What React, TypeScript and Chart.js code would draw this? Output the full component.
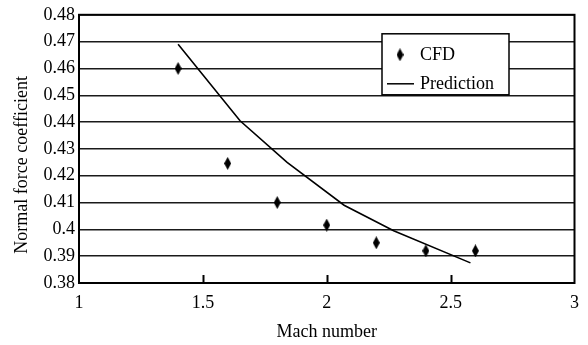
import React, { useEffect, useRef } from 'react';
import { Chart, registerables } from 'chart.js';

Chart.register(...registerables);

// ---- data ----
const machCFD = [1.4, 1.6, 1.8, 2.0, 2.2, 2.4, 2.6];
const cnCFD = [0.46, 0.4246, 0.41, 0.4016, 0.395, 0.392, 0.392];
const machPred = [1.4, 1.65, 1.84, 2.07, 2.27, 2.58];
const cnPred = [0.469, 0.4405, 0.425, 0.409, 0.3995, 0.3875];
const xTicks = [1, 1.5, 2, 2.5, 3];
const yTicks = [0.38, 0.39, 0.4, 0.41, 0.42, 0.43, 0.44, 0.45, 0.46, 0.47, 0.48];
const xTitle = 'Mach number';
const yTitle = 'Normal force coefficient';
const cfdLabel = 'CFD';
const predLabel = 'Prediction';

const FONT = '"Liberation Serif", "Times New Roman", serif';

function makeDiamond(w: number, h: number): HTMLCanvasElement {
  const c = document.createElement('canvas');
  c.width = w;
  c.height = h;
  const g = c.getContext('2d')!;
  g.fillStyle = '#000';
  g.beginPath();
  g.moveTo(w / 2, 0);
  g.lineTo(w, h / 2);
  g.lineTo(w / 2, h);
  g.lineTo(0, h / 2);
  g.closePath();
  g.fill();
  return c;
}

export default function App() {
  const ref = useRef<HTMLCanvasElement | null>(null);

  useEffect(() => {
    if (!ref.current) return;
    const diamond = makeDiamond(7, 13);

    const decor = {
      id: 'decor',
      afterDatasetsDraw(chart: any) {
        const { ctx, chartArea: a, scales } = chart;
        const xs = scales.x;
        ctx.save();
        // inward x ticks
        ctx.strokeStyle = '#000';
        ctx.lineWidth = 2;
        xTicks.slice(1, -1).forEach((v) => {
          const px = Math.round(xs.getPixelForValue(v)) + 0.5;
          ctx.beginPath();
          ctx.moveTo(px, a.bottom);
          ctx.lineTo(px, a.bottom - 8);
          ctx.stroke();
        });
        // frame
        ctx.strokeRect(a.left, a.top, a.right - a.left, a.bottom - a.top);

        // legend box
        const bx = a.left + 303;
        const by = a.top + 19;
        const bw = 127;
        const bh = 61;
        ctx.fillStyle = '#fff';
        ctx.fillRect(bx, by, bw, bh);
        ctx.lineWidth = 1.5;
        ctx.strokeStyle = '#000';
        ctx.strokeRect(bx, by, bw, bh);
        const ds = chart.data.datasets;
        ctx.drawImage(diamond, bx + 18 - 3.5, by + 21 - 6.5);
        ctx.beginPath();
        ctx.lineWidth = 1.5;
        ctx.moveTo(bx + 5, by + 50);
        ctx.lineTo(bx + 32, by + 50);
        ctx.stroke();
        ctx.fillStyle = '#000';
        ctx.font = '18px ' + FONT;
        ctx.textAlign = 'left';
        ctx.textBaseline = 'middle';
        ctx.fillText(ds[0].label, bx + 38, by + 21);
        ctx.fillText(ds[1].label, bx + 38, by + 50);

        // y title
        ctx.save();
        ctx.translate(27, (a.top + a.bottom) / 2 + 16);
        ctx.rotate(-Math.PI / 2);
        ctx.textAlign = 'center';
        ctx.textBaseline = 'alphabetic';
        ctx.fillText(yTitle, 0, 0);
        ctx.restore();

        ctx.restore();
      },
    };

    const chart = new Chart(ref.current, {
      type: 'scatter',
      data: {
        datasets: [
          {
            label: cfdLabel,
            data: machCFD.map((x, i) => ({ x, y: cnCFD[i] })),
            pointStyle: diamond as any,
            pointRadius: 6,
            showLine: false,
            backgroundColor: '#000',
            borderColor: '#000',
          },
          {
            label: predLabel,
            data: machPred.map((x, i) => ({ x, y: cnPred[i] })),
            showLine: true,
            pointRadius: 0,
            borderColor: '#000',
            borderWidth: 1.6,
            tension: 0,
          },
        ],
      },
      plugins: [decor],
      options: {
        responsive: false,
        animation: false,
        layout: { padding: { top: 13, right: 10, left: 0, bottom: 0 } },
        plugins: {
          legend: { display: false },
          tooltip: { enabled: false },
        },
        scales: {
          x: {
            type: 'linear',
            min: 1,
            max: 3,
            afterBuildTicks: (s: any) => {
              s.ticks = xTicks.map((v) => ({ value: v }));
            },
            afterFit: (s: any) => {
              s.height = 62;
            },
            grid: { display: false, drawTicks: false },
            border: { display: true, color: '#000', width: 2 },
            ticks: {
              color: '#000',
              padding: 9,
              font: { family: FONT, size: 18 },
              callback: (v: any) => String(v),
            },
            title: {
              display: true,
              text: xTitle,
              color: '#000',
              font: { family: FONT, size: 18 },
              padding: { top: 0, bottom: 2 },
            },
          },
          y: {
            type: 'linear',
            min: 0.38,
            max: 0.48,
            afterBuildTicks: (s: any) => {
              s.ticks = yTicks.map((v) => ({ value: v }));
            },
            afterFit: (s: any) => {
              s.width = 79;
            },
            grid: { color: '#1a1a1a', lineWidth: 1.5, drawTicks: false },
            border: { display: true, color: '#000', width: 2 },
            ticks: {
              color: '#000',
              padding: 4,
              font: { family: FONT, size: 18 },
              callback: (v: any) => String(v),
            },
          },
        },
      },
    });
    return () => chart.destroy();
  }, []);

  return (
    <div style={{ position: 'absolute', left: 0, top: 0, width: 588, height: 345, background: '#fff' }}>
      <canvas ref={ref} width={588} height={345} />
    </div>
  );
}
